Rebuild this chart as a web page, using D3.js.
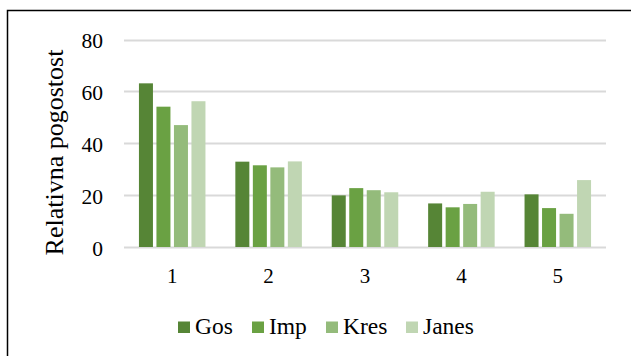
<!DOCTYPE html>
<html>
<head>
<meta charset="utf-8">
<script src="https://cdn.jsdelivr.net/npm/d3@7/dist/d3.min.js"></script>
<style>
  html, body { margin: 0; padding: 0; background: #fff; }
  svg { display: block; }
  text { font-family: "Liberation Serif", "Times New Roman", serif; fill: #000; }
</style>
</head>
<body>
<svg id="chart" width="631" height="356"></svg>
<script>
// Categories along the x axis
const categories = ["1", "2", "3", "4", "5"];
// Series names and values (relative frequency)
const seriesNames = ["Gos", "Imp", "Kres", "Janes"];
const gos   = [63.1, 32.9, 19.9, 16.8, 20.3];
const imp   = [54.1, 31.5, 22.7, 15.3, 15.0];
const kres  = [47.0, 30.7, 21.9, 16.6, 12.8];
const janes = [56.2, 33.0, 21.1, 21.3, 25.8];
const yTicks = [0, 20, 40, 60, 80];
const colors = ["#568536", "#6aa143", "#94bb7b", "#c0d6b3"];

const seriesValues = [gos, imp, kres, janes];

const svg = d3.select("#chart");

// Outer frame (top and left edges visible)
svg.append("path")
  .attr("d", "M7.5,356 V10.5 H631")
  .attr("fill", "none")
  .attr("stroke", "#000")
  .attr("stroke-width", 1.5);

const plot = { left: 124, right: 606, top: 39.5, bottom: 247 };

const y = d3.scaleLinear().domain([0, 80]).range([plot.bottom, plot.top]);
const x0 = d3.scaleBand().domain(categories).range([plot.left, plot.right]).paddingInner(0.31).paddingOuter(0.155);
const x1 = d3.scaleBand().domain(seriesNames).range([0, x0.bandwidth()]).paddingInner(0.2);

// Gridlines
svg.append("g")
  .selectAll("line")
  .data(yTicks)
  .join("line")
  .attr("x1", plot.left).attr("x2", plot.right)
  .attr("y1", d => Math.round(y(d)) + 0.5)
  .attr("y2", d => Math.round(y(d)) + 0.5)
  .attr("stroke", "#d9d9d9")
  .attr("stroke-width", 2);

// Y axis labels
const yAxis = d3.axisLeft(y).tickValues(yTicks).tickSize(0).tickPadding(0);
const yg = svg.append("g").attr("transform", `translate(${plot.left - 21},0)`).call(yAxis);
yg.select(".domain").remove();
yg.selectAll("text")
  .attr("font-family", "Liberation Serif, serif")
  .attr("font-size", 21.5)
  .attr("fill", "#000")
  .attr("dy", "0.38em");

// X axis labels
const xAxis = d3.axisBottom(x0).tickSize(0).tickPadding(0);
const xg = svg.append("g").attr("transform", "translate(0,283)").call(xAxis);
xg.select(".domain").remove();
xg.selectAll("text")
  .attr("font-family", "Liberation Serif, serif")
  .attr("font-size", 21)
  .attr("fill", "#000")
  .attr("y", 0)
  .attr("dy", 0);

// Bars
const groups = svg.append("g")
  .selectAll("g")
  .data(categories)
  .join("g")
  .attr("transform", d => `translate(${x0(d)},0)`);

groups.selectAll("rect")
  .data((c, i) => seriesNames.map((s, j) => ({ s, j, v: seriesValues[j][i] })))
  .join("rect")
  .attr("x", d => x1(d.s))
  .attr("width", x1.bandwidth())
  .attr("y", d => y(d.v))
  .attr("height", d => plot.bottom - y(d.v))
  .attr("fill", d => colors[d.j]);

// Y axis title
svg.append("text")
  .attr("transform", "translate(63,152.5) rotate(-90)")
  .attr("text-anchor", "middle")
  .attr("font-size", 26)
  .text("Relativna pogostost");

// Legend
const legendX = [178, 252, 326, 406];
const legend = svg.append("g")
  .selectAll("g")
  .data(seriesNames)
  .join("g")
  .attr("transform", (d, i) => `translate(${legendX[i]},321.5)`);
legend.append("rect")
  .attr("width", 12).attr("height", 11.5)
  .attr("fill", (d, i) => colors[i]);
legend.append("text")
  .attr("x", 17).attr("y", 12.5)
  .attr("font-size", 23.5)
  .text(d => d);
</script>
</body>
</html>
